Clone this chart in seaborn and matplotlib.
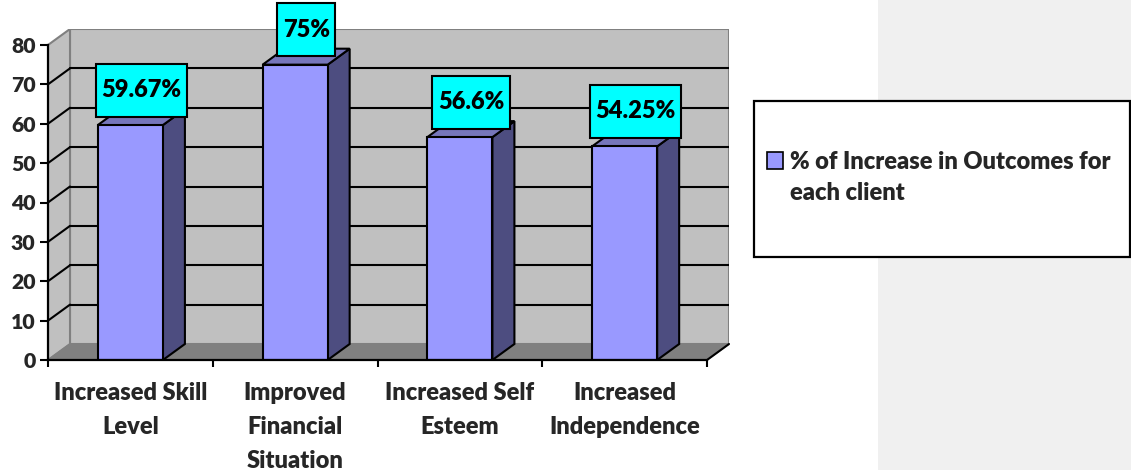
import numpy as np
import pandas as pd
import matplotlib
matplotlib.use("Agg")
import matplotlib.pyplot as plt
import seaborn as sns
from matplotlib.patches import Polygon, Rectangle, Patch

# ---------------- data ----------------
categories = ["Increased Skill\nLevel", "Improved\nFinancial\nSituation",
              "Increased Self\nEsteem", "Increased\nIndependence"]
values = [59.67, 75, 56.6, 54.25]
value_labels = ["59.67%", "75%", "56.6%", "54.25%"]
series_name = ["% of Increase in Outcomes for", "each client"]
y_ticks = [0, 10, 20, 30, 40, 50, 60, 70, 80]

# ---------------- style ----------------
sns.set_theme(style="white")
plt.rcParams["font.family"] = ["Lato", "DejaVu Sans"]
WT = "heavy"
plt.rcParams["font.weight"] = WT

FS = 17.0

W, H = 1131, 470
fig = plt.figure(figsize=(W / 100, H / 100), dpi=100)
fig.patch.set_facecolor("white")

# grey page strip on the right
fig.patches.append(Rectangle((878 / W, 0), 1 - 878 / W, 1, transform=fig.transFigure,
                             facecolor="#f0f0f0", edgecolor="none", zorder=-10))

PX_X = 164.75          # pixels per category
PX_Y = 3.9375          # pixels per y unit
DX = 22 / PX_X         # depth offset (x) in data units
DY = 16 / PX_Y         # depth offset (y) in data units
YMAX = y_ticks[-1]

ax = fig.add_axes([48 / W, 110 / H, (4 + DX) * PX_X / W, (YMAX + DY) * PX_Y / H])
ax.patch.set_visible(False)

df = pd.DataFrame({"category": categories, "value": values})
sns.barplot(data=df, x="category", y="value", color="#9999ff", saturation=1,
            width=0.395, edgecolor="black", linewidth=1.5, ax=ax, zorder=3)
bars = list(ax.patches)

x0, x1 = -0.5, len(categories) - 0.5
ax.set_xlim(x0, x1 + DX)
ax.set_ylim(0, YMAX + DY)

# walls & floor
wall = "#c0c0c0"
ax.add_patch(Rectangle((x0 + DX, DY), x1 - x0, YMAX, facecolor=wall, edgecolor="#808080",
                       lw=1.5, zorder=0))
ax.add_patch(Polygon([(x0, 0), (x0 + DX, DY), (x0 + DX, YMAX + DY), (x0, YMAX)],
                     closed=True, facecolor=wall, edgecolor="#808080", lw=1.5, zorder=0))
ax.add_patch(Polygon([(x0, 0), (x1, 0), (x1 + DX, DY), (x0 + DX, DY)],
                     closed=True, facecolor="#808080", edgecolor="#808080", lw=1, zorder=0.6))
for v in y_ticks[1:-1]:
    ax.plot([x0 + DX, x1 + DX], [v + DY, v + DY], color="black", lw=1.5, zorder=0.5)
    ax.plot([x0, x0 + DX], [v, v + DY], color="black", lw=1.5, zorder=0.5)
ax.plot([x1, x1 + DX], [0, DY], color="black", lw=1.5, zorder=4, clip_on=False)

# 3D sides and tops of the bars
for p in bars:
    bx, bw, bh = p.get_x(), p.get_width(), p.get_height()
    ax.add_patch(Polygon([(bx + bw, 0), (bx + bw + DX, DY), (bx + bw + DX, bh + DY), (bx + bw, bh)],
                         closed=True, facecolor="#4d4d80", edgecolor="black", lw=1.5, zorder=2.9))
    ax.add_patch(Polygon([(bx, bh), (bx + DX, bh + DY), (bx + bw + DX, bh + DY), (bx + bw, bh)],
                         closed=True, facecolor="#7676bb", edgecolor="black", lw=1.5, zorder=2.9))

# value labels
texts = []
for p, lab in zip(bars, value_labels):
    cx = p.get_x() + p.get_width() / 2 + DX / 2
    t = ax.annotate(lab, xy=(cx, p.get_height()), xytext=(0, 35), textcoords="offset pixels",
                    ha="center", va="center", fontsize=FS, fontweight=WT,
                    color="black", zorder=11, annotation_clip=False)
    texts.append(t)

# axes styling
for s in ["top", "right"]:
    ax.spines[s].set_visible(False)
for s in ["left", "bottom"]:
    ax.spines[s].set_color("black")
    ax.spines[s].set_linewidth(1.6)
    ax.spines[s].set_zorder(5)
ax.spines["left"].set_bounds(0, YMAX)
ax.spines["bottom"].set_bounds(x0, x1)

ax.set_yticks(y_ticks)
ax.set_yticklabels([str(v) for v in y_ticks], fontsize=15.3, fontweight=WT)
ax.tick_params(axis="y", direction="out", length=6, width=1.5, pad=3, color="black", left=True)
ax.set_xticks(range(len(categories)))
ax.set_xticklabels(categories, fontsize=FS, fontweight=WT, linespacing=1.68)
ax.set_xticks(np.arange(x0, x1 + 0.01, 1.0), minor=True)
ax.tick_params(axis="x", which="major", length=0, pad=15.5)
ax.tick_params(axis="x", which="minor", direction="out", length=5, width=1.5, color="black", bottom=True)
ax.set_xlabel("")
ax.set_ylabel("")
ax.grid(False)

# legend
fig.patches.append(Rectangle((754 / W, 1 - 257 / H), 376 / W, 156 / H, transform=fig.transFigure,
                             facecolor="white", edgecolor="black", lw=1.6, zorder=-5))
h1 = Patch(facecolor="#9999ff", edgecolor="black", lw=1.2)
h2 = Patch(facecolor="none", edgecolor="none")
leg = ax.legend([h1, h2], series_name, loc="upper left",
                bbox_to_anchor=(767 / W, 1 - 151 / H), bbox_transform=fig.transFigure,
                frameon=False, handlelength=0.66, handleheight=0.7, handletextpad=0.33,
                labelspacing=0.4, borderpad=0, borderaxespad=0,
                prop={"size": FS, "weight": WT})

# cyan boxes behind value labels
fig.canvas.draw()
r = fig.canvas.get_renderer()
inv = ax.transData.inverted()
for t in texts:
    bb = t.get_window_extent(r)
    cy = (bb.y0 + bb.y1) / 2
    (ax0, ay0) = inv.transform((bb.x0 - 5.5, cy - 26.5))
    (ax1, ay1) = inv.transform((bb.x1 + 5.5, cy + 26.5))
    ax.add_patch(Rectangle((ax0, ay0), ax1 - ax0, ay1 - ay0, facecolor="#00ffff",
                           edgecolor="black", lw=1.5, zorder=10, clip_on=False))

fig.savefig("out.png", dpi=100)
